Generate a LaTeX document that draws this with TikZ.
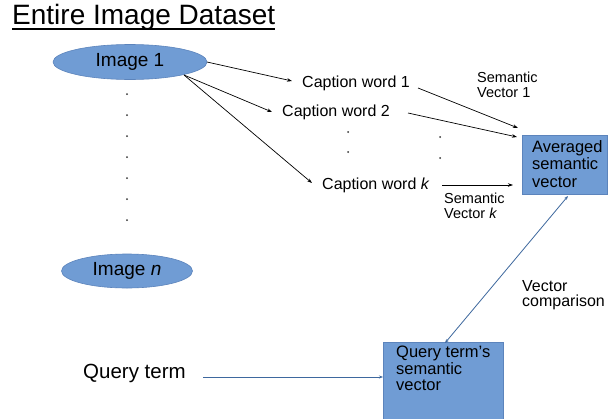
\documentclass[tikz,border=0pt]{standalone}
\usepackage{fontspec}
\setmainfont{Liberation Sans}
\usetikzlibrary{arrows.meta,shapes.geometric,calc}
\definecolor{boxfill}{RGB}{112,156,212}
\definecolor{boxline}{RGB}{92,132,188}
\definecolor{bluearrow}{RGB}{62,104,158}
\newcommand{\fs}[1]{\fontsize{#1}{#1}\selectfont}
\tikzset{
  ell/.style={ellipse, fill=boxfill, draw=boxline, line width=0.6pt, inner sep=0pt},
  vbox/.style={fill=boxfill, draw=boxline, line width=0.5pt},
  lbl/.style={inner sep=0pt, anchor=west},
  blk/.style={draw=black, line width=0.7pt, -{Stealth[length=5pt,width=3.5pt]}},
  blu/.style={draw=bluearrow, line width=0.8pt, -{Stealth[length=4pt,width=3pt]}},
  dotmark/.style={circle, fill=black!80, inner sep=0pt, minimum size=2pt},
}
\begin{document}
\begin{tikzpicture}[x=1pt,y=-1pt]
\useasboundingbox (0,0) rectangle (608,418);
\fill[white] (0,0) rectangle (608,418);

% title
\node[anchor=base west, inner sep=0pt, font=\fs{28}] (title) at (12,24) {Entire Image Dataset};
\draw[line width=1.4pt] ($(title.base west)+(0,5)$) -- ($(title.base east)+(0,5)$);

% images
\node[ell, minimum width=154pt, minimum height=35pt, font=\fs{19}] (img1) at (130,62) {Image 1};
\node[ell, minimum width=131pt, minimum height=34pt, font=\fs{19}] (imgn) at (127,271) {Image \textit{n}};
\foreach \i in {0,...,6}{
  \node[dotmark] (vd\i) at (127,{94+21*\i}) {};
}

% caption words
\node[lbl, font=\fs{16}] (cap1) at (302,83) {Caption word 1};
\node[lbl, font=\fs{16}] (cap2) at (282,112) {Caption word 2};
\node[lbl, font=\fs{16}] (capk) at (322,185) {Caption word \textit{k}};
\node[dotmark] (md1) at (348,132) {};
\node[dotmark] (md2) at (348,152) {};
\node[dotmark] (rd1) at (440,137) {};
\node[dotmark] (rd2) at (440,158) {};

% averaged box
\draw[vbox] (522,135) rectangle (607,194);
\node[inner sep=0pt, anchor=south west] (avg) at (522,194) {\phantom{\rule{85pt}{59pt}}};
\node[lbl, align=left, anchor=north west, font=\fontsize{16.5}{17.5}\selectfont] (avgt) at (532,140) {Averaged\\semantic\\vector};

% query box
\draw[vbox] (383,342) rectangle (503,425);
\node[inner sep=0pt, anchor=north west] (qbox) at (383,342) {\phantom{\rule{120pt}{76pt}}};
\node[lbl, align=left, anchor=north west, font=\fontsize{16.5}{16.5}\selectfont] (qboxt) at (396,346) {Query term's\\semantic\\vector};

% labels
\node[lbl, align=left, anchor=north west, font=\fontsize{14.5}{15}\selectfont] (sv1) at (477,72) {Semantic\\Vector 1};
\node[lbl, align=left, anchor=north west, font=\fontsize{14.5}{15}\selectfont] (svk) at (444,193) {Semantic\\Vector \textit{k}};
\node[lbl, align=left, anchor=north west, font=\fontsize{16}{15.5}\selectfont] (vc) at (522,280) {Vector\\comparison};
\node[lbl, font=\fs{20.5}] (qt) at (83,373) {Query term};

% connectors
\coordinate (i1a) at (207,62);
\coordinate (i1b) at (184,75);
\draw[blk] (i1a) -- (292,81) coordinate (c1e);
\draw[blk] (i1b) -- (272,112) coordinate (c2e);
\draw[blk] (i1b) -- (312,183) coordinate (cke);

\coordinate (s1) at (418,88);
\coordinate (s2) at (408,113);
\coordinate (sk) at (442,185);
\draw[blk] (s1) -- (518,128);
\draw[blk] (s2) -- (517,137);
\draw[blk] (sk) -- (513,185);

\coordinate (qs) at (203,377);
\draw[blu] (qs) -- (qbox.west |- qs);
\draw[blu, {Stealth[length=4pt,width=3pt]}-{Stealth[length=4pt,width=3pt]}] (445,343) -- (568,196);
\end{tikzpicture}
\end{document}
